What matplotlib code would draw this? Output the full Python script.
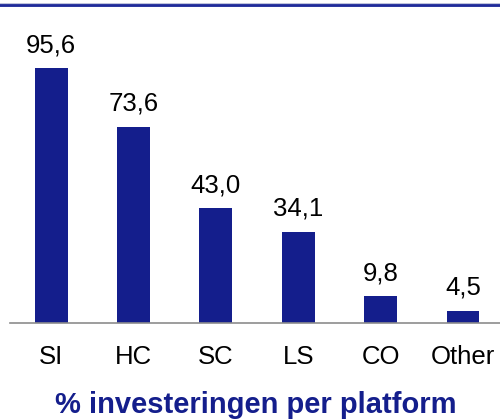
import matplotlib
matplotlib.use("Agg")
import matplotlib.pyplot as plt
from matplotlib.lines import Line2D

categories = ["SI", "HC", "SC", "LS", "CO", "Other"]
values = [95.6, 73.6, 43.0, 34.1, 9.8, 4.5]
value_labels = ["95,6", "73,6", "43,0", "34,1", "9,8", "4,5"]
title = "% investeringen per platform"

plt.rcParams['font.family'] = ['Liberation Sans', 'DejaVu Sans']

navy = '#141E8C'
W, H = 500, 420
fig = plt.figure(figsize=(5, 4.2), dpi=100)
ax = fig.add_axes([9.5 / W, (H - 322.5) / H, 1 - 9.5 / W, 322.5 / H])
ax.set_xlim(-0.504, 5.449)
ax.set_ylim(0, 322.5 / 2.657)
x = list(range(len(categories)))
ax.bar(x, values, width=0.40, color=navy, zorder=2)
for s in ['top', 'right', 'left']:
    ax.spines[s].set_visible(False)
ax.spines['bottom'].set_color('#8C8C8C')
ax.spines['bottom'].set_linewidth(1.2)
ax.set_xticks([])
ax.set_yticks([])

pt = 72 / 100.0
for i, (v, lab) in enumerate(zip(values, value_labels)):
    ax.annotate(lab, xy=(i, v), xytext=(0, 16 * pt), textcoords='offset points',
                ha='center', va='baseline', fontsize=18.5, color='black', annotation_clip=False)
for i, c in enumerate(categories):
    ax.annotate(c, xy=(i, 0), xycoords=('data', 'axes fraction'), xytext=(0, -41 * pt),
                textcoords='offset points', ha='center', va='baseline', fontsize=18.5,
                color='black', annotation_clip=False)

fig.text(256 / W, (H - 413.3) / H, title, ha='center', va='baseline', fontsize=21,
         fontweight='bold', color=navy)

fig.add_artist(Line2D([0, 1], [(H - 4.7) / H] * 2, transform=fig.transFigure,
                      color='#C0C4DC', lw=4.0 * pt))
fig.add_artist(Line2D([0, 1], [(H - 4.7) / H] * 2, transform=fig.transFigure,
                      color='#1F2B9A', lw=2.8 * pt))

fig.savefig("out.png", dpi=100)
